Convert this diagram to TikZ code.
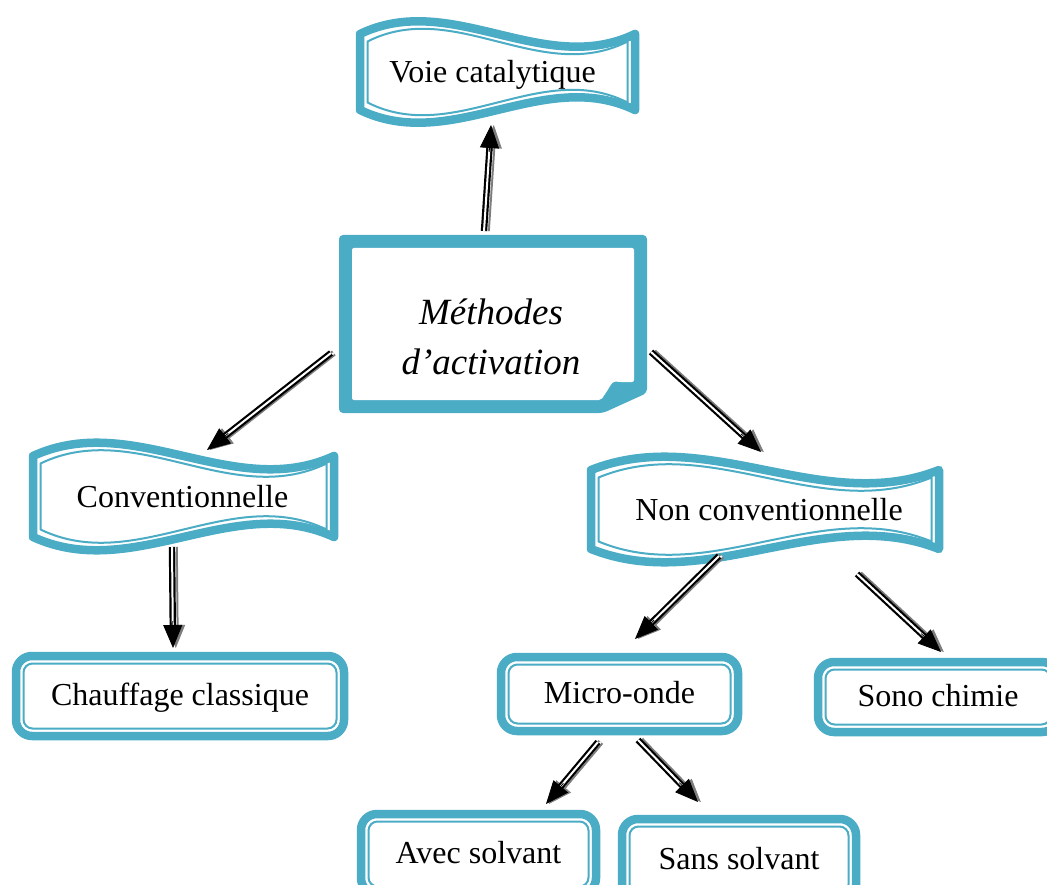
\documentclass[tikz,border=0pt]{standalone}
\usepackage{fontspec}
\setmainfont{Liberation Serif}
\usetikzlibrary{arrows.meta,calc}
\definecolor{aqua}{RGB}{75,172,198}
\definecolor{shadowgrey}{RGB}{125,125,125}
\tikzset{
  thickband/.style={draw=aqua, line width=8.5pt, line join=round},
  thinband/.style={draw=aqua, line width=2pt, line join=round},
  lbl/.style={font=\fontsize{32}{36}\selectfont, inner sep=0pt, text height=23pt, text depth=5pt},
  rbox/.style={thickband, rounded corners=16pt, outer sep=0pt, fill=white, inner sep=0pt, lbl},
  shaftline/.style={draw=black, line width=2.2pt, double=white, double distance=2pt},
  shaftshadow/.style={draw=shadowgrey, line width=2pt, double=white, double distance=2pt, transform canvas={xshift=2.8pt}},
  headtip/.style={draw=black, line width=0.8pt, -{Triangle[length=23pt,width=19pt]}},
  headshadow/.style={draw=shadowgrey, line width=0.8pt, -{Triangle[length=23pt,width=19pt]}, transform canvas={xshift=2.8pt}},
}
\newcommand\bannerband[5]{%
  \draw[thickband, fill=white] (#1,#2) .. controls ({#1+(#3-#1)/3},{#2-#5}) and ({#1+2*(#3-#1)/3},{#2+#5}) .. (#3,#2) -- (#3,#4) .. controls ({#1+2*(#3-#1)/3},{#4-#5}) and ({#1+(#3-#1)/3},{#4+#5}) .. (#1,#4) -- cycle;
  \draw[thinband] ({#1+7.5},{#2+7.5}) .. controls ({#1+7.5+(#3-#1-15)/3},{#2+7.5-#5}) and ({#1+7.5+2*(#3-#1-15)/3},{#2+7.5+#5}) .. ({#3-7.5},{#2+7.5}) -- ({#3-7.5},{#4-7.5}) .. controls ({#1+7.5+2*(#3-#1-15)/3},{#4-7.5-#5}) and ({#1+7.5+(#3-#1-15)/3},{#4-7.5+#5}) .. ({#1+7.5},{#4-7.5}) -- cycle;
}
\newcommand\dblarrow[2]{%
  \draw[shaftshadow] (#1) -- ($(#2)!17pt!(#1)$);
  \draw[headshadow] ($(#2)!27pt!(#1)$) -- (#2);
  \draw[shaftline] (#1) -- ($(#2)!17pt!(#1)$);
  \draw[headtip] ($(#2)!27pt!(#1)$) -- (#2);
}
\newcommand\innerline[1]{%
  \draw[thinband, rounded corners=9pt] ([shift={(7.5pt,-7.5pt)}]#1.north west) rectangle ([shift={(-7.5pt,7.5pt)}]#1.south east);
}
\begin{document}
\begin{tikzpicture}[x=1pt,y=-1pt]
\useasboundingbox (0,0) rectangle (1047,885);
\clip (0,0) rectangle (1047,885);
\fill[white] (0,0) rectangle (1047,885);

% banners
\bannerband{360}{34}{635}{110}{44}
\node[lbl] (voie) at (492.5,74) {Voie catalytique};
\bannerband{33}{456}{334}{537}{46}
\node[lbl] (conv) at (182.5,498) {Conventionnelle};
\bannerband{591}{470}{939}{549}{46}
\node[lbl] (nonconv) at (769,511) {Non conventionnelle};

% central folded box
\fill[aqua, rounded corners=4pt] (339,235) -- (647,235) -- (647,393) -- (603,413) -- (339,413) -- cycle;
\fill[white, rounded corners=2pt] (352,248) -- (634,248) -- (634,382) -- (619,382) .. controls (613,381) and (611,384) .. (609,388) -- (601,400) -- (352,400) -- cycle;
\node[align=center, inner sep=0pt, font=\itshape\fontsize{37}{50}\selectfont] (meth) at (491,337) {Méthodes\\d’activation};

% rounded boxes
\node[rbox, minimum width=328pt, minimum height=80pt] (chauf) at (180,696) {Chauffage classique};
\innerline{chauf}
\node[rbox, minimum width=237pt, minimum height=74pt] (micro) at (619.5,694) {Micro-onde};
\innerline{micro}
\node[rbox, minimum width=240pt, minimum height=70pt] (sono) at (938,697) {Sono chimie};
\innerline{sono}
\node[rbox, minimum width=235pt, minimum height=80pt] (avec) at (478.5,854) {Avec solvant};
\innerline{avec}
\node[rbox, minimum width=234pt, minimum height=82pt] (sans) at (739,860) {Sans solvant};
\innerline{sans}

% arrow end points
\coordinate (a1s) at (484,231); \coordinate (a1e) at (491,125);
\coordinate (a2s) at (331,353); \coordinate (a2e) at (207,450);
\coordinate (a3s) at (651,352); \coordinate (a3e) at (761,452);
\coordinate (a4s) at (172,547); \coordinate (a4e) at (173,648);
\coordinate (a5s) at (719,556); \coordinate (a5e) at (635,639);
\coordinate (a6s) at (857,574); \coordinate (a6e) at (941,652);
\coordinate (a7s) at (598,742); \coordinate (a7e) at (546,804);
\coordinate (a8s) at (638,740); \coordinate (a8e) at (698,802);
\dblarrow{a1s}{a1e}
\dblarrow{a2s}{a2e}
\dblarrow{a3s}{a3e}
\dblarrow{a4s}{a4e}
\dblarrow{a5s}{a5e}
\dblarrow{a6s}{a6e}
\dblarrow{a7s}{a7e}
\dblarrow{a8s}{a8e}
\end{tikzpicture}
\end{document}
